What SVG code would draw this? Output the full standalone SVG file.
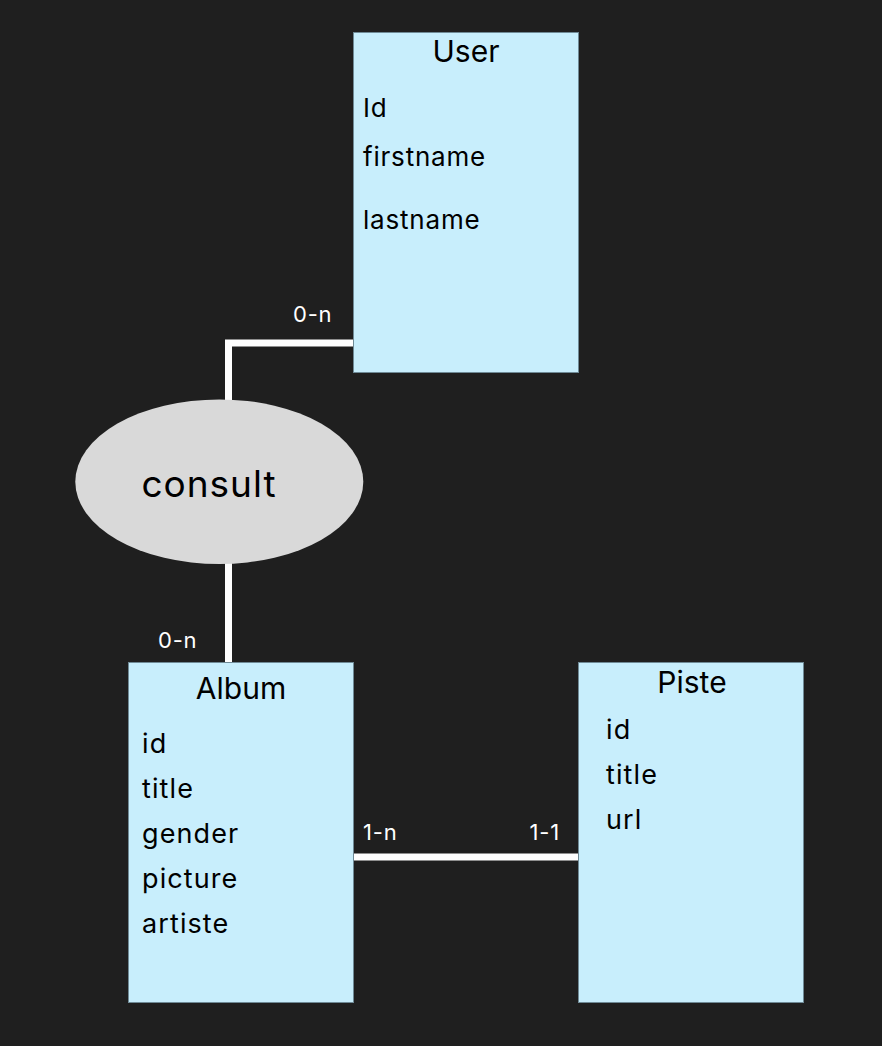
<svg xmlns="http://www.w3.org/2000/svg" width="882" height="1046" viewBox="0 0 882 1046">
<style>
.box{fill:#c8eefc;stroke:#6f8a96;stroke-width:1}
.t{font-family:Inter,"Liberation Sans",sans-serif;fill:#000}
.title{font-size:30px;text-anchor:middle}
.attr{font-size:26px;letter-spacing:0.8px}
.attr2{font-size:27px;letter-spacing:1.1px}
.lbl{font-family:Inter,"Liberation Sans",sans-serif;font-size:22px;letter-spacing:0.8px;fill:#fff}
.line{stroke:#fff;stroke-width:7;fill:none}
</style>
<rect width="882" height="1046" fill="#1f1f1f"/>
<g id="connectors">
<polyline class="line" points="353,343 228.5,343 228.5,400"/>
<line class="line" x1="228.5" y1="563" x2="228.5" y2="662"/>
<line class="line" x1="353" y1="857" x2="578" y2="857"/>
<text class="lbl" x="293" y="322">0-n</text>
<text class="lbl" x="158" y="648">0-n</text>
<text class="lbl" x="363" y="840">1-n</text>
<text class="lbl" x="560" y="840" text-anchor="end">1-1</text>
</g>
<g id="user">
<rect class="box" x="353.5" y="32.5" width="225" height="340"/>
<text class="t title" x="466" y="62">User</text>
<text class="t attr" x="363" y="117">Id</text>
<text class="t attr" x="363" y="166">firstname</text>
<text class="t attr" x="363" y="229">lastname</text>
</g>
<g id="consult">
<ellipse cx="219.3" cy="481.7" rx="144" ry="82.3" fill="#d9d9d9"/>
<text class="t" x="209" y="497" font-size="37" letter-spacing="1" text-anchor="middle">consult</text>
</g>
<g id="album">
<rect class="box" x="128.5" y="662.5" width="225" height="340"/>
<text class="t title" x="241" y="699">Album</text>
<text class="t attr2" x="142" y="753">id</text>
<text class="t attr2" x="142" y="798">title</text>
<text class="t attr2" x="142" y="843">gender</text>
<text class="t attr2" x="142" y="888">picture</text>
<text class="t attr2" x="142" y="933">artiste</text>
</g>
<g id="piste">
<rect class="box" x="578.5" y="662.5" width="225" height="340"/>
<text class="t title" x="692" y="693">Piste</text>
<text class="t attr2" x="606" y="739">id</text>
<text class="t attr2" x="606" y="784">title</text>
<text class="t attr2" x="606" y="829">url</text>
</g>
</svg>
